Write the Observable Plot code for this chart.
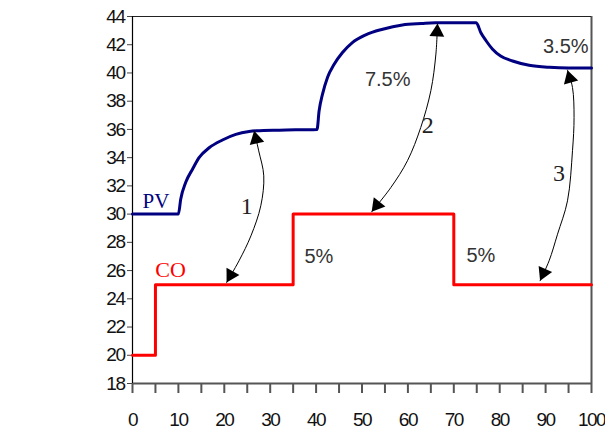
<!DOCTYPE html>
<html>
<head>
<meta charset="utf-8">
<script src="https://cdn.jsdelivr.net/npm/d3@7"></script>
<script src="https://cdn.jsdelivr.net/npm/@observablehq/plot@0.6"></script>
<style>
  html, body { margin: 0; padding: 0; background: #fff; }
  g[aria-label="x-axis tick label"] text, g[aria-label="y-axis tick label"] text { letter-spacing: -1.5px; }
</style>
</head>
<body>
<div id="chart"></div>
<script>
// ---- Data ----
const pvX = [0, 10, 10.5, 11.6, 13.1, 14.5, 16.7, 19.6, 22.5, 25.4, 27, 32, 40.2, 40.65, 41.4, 42.5, 43.9, 45.75, 47.9, 50.8, 54.5, 58.8, 63, 66, 74.9, 75.9, 77, 78.4, 80.2, 82.8, 86.4, 90.8, 95, 100];
const pvY = [30, 30, 31.05, 32.25, 33.2, 34.0, 34.7, 35.25, 35.65, 35.85, 35.9, 35.95, 36.0, 37.3, 38.5, 39.7, 40.6, 41.45, 42.15, 42.7, 43.1, 43.4, 43.5, 43.55, 43.55, 42.85, 42.3, 41.7, 41.2, 40.85, 40.55, 40.4, 40.35, 40.35];

const coX = [0, 5, 35, 70, 100];
const coY = [20, 25, 30, 25, 25];

const xTicks = [0, 10, 20, 30, 40, 50, 60, 70, 80, 90, 100];
const xMinorTicks = [0, 5, 10, 15, 20, 25, 30, 35, 40, 45, 50, 55, 60, 65, 70, 75, 80, 85, 90, 95, 100];
const yTicks = [18, 20, 22, 24, 26, 28, 30, 32, 34, 36, 38, 40, 42, 44];

// curved double-headed arrows (data coordinates along each path)
const arrow1X = [26.5, 27.5, 28.6, 27.95, 25.8, 23.2, 20.5];
const arrow1Y = [35.9, 34.48, 32.71, 30.59, 28.46, 26.69, 25.15];
const arrow2X = [66.45, 66.1, 65.0, 62.8, 59.9, 56.3, 52.1];
const arrow2Y = [43.5, 41.34, 38.74, 36.14, 33.78, 31.89, 30.16];
const arrow3X = [94.77, 95.86, 96.2, 95.86, 94.77, 92.6, 90.76, 88.8];
const arrow3Y = [40.2, 38.97, 36.84, 34.49, 30.94, 28.58, 26.69, 25.28];

// labels
const seriesLabels = ["PV", "CO"];
const seriesLabelX = [5.1, 8.3];
const seriesLabelY = [30.94, 26.05];
const numLabels = ["1", "2", "3"];
const numLabelX = [24.9, 64.3, 92.9];
const numLabelY = [30.52, 36.26, 32.86];
const pctLabels = ["7.5%", "3.5%", "5%", "5%"];
const pctLabelX = [55.6, 94.4, 40.6, 75.9];
const pctLabelY = [39.52, 41.85, 26.98, 27.05];

// ---- Build ----
const W = 605, H = 435;
const mL = 132, mR = 14, mT = 16, mB = 52;
const kx = (W - mL - mR) / 100;   // px per x unit
const ky = (H - mT - mB) / 26;    // px per y unit

const pv = pvX.map((x, i) => ({x, y: pvY[i]}));
const co = coX.map((x, i) => ({x, y: coY[i]}));

const arrowsRaw = [[arrow1X, arrow1Y], [arrow2X, arrow2Y], [arrow3X, arrow3Y]];
const arrowPts = [];
const heads = [];
const r = 5.5;
const area = Math.PI * r * r;
const side = Math.sqrt(4 * area / Math.sqrt(3));
const off = (2 / 3) * side * Math.sqrt(3) / 2;
arrowsRaw.forEach(([xs, ys], k) => {
  xs.forEach((x, i) => arrowPts.push({x, y: ys[i], id: k}));
  const n = xs.length;
  for (const [t, p] of [[0, 1], [n - 1, n - 2]]) {
    const dx = (xs[t] - xs[p]) * kx;
    const dy = -(ys[t] - ys[p]) * ky;
    const len = Math.hypot(dx, dy);
    const ux = dx / len, uy = dy / len;
    heads.push({
      x: xs[t] - ux * off / kx,
      y: ys[t] + uy * off / ky,
      rot: Math.atan2(ux, -uy) * 180 / Math.PI
    });
  }
});

const series = seriesLabels.map((t, i) => ({t, x: seriesLabelX[i], y: seriesLabelY[i]}));
const nums = numLabels.map((t, i) => ({t, x: numLabelX[i], y: numLabelY[i]}));
const pcts = pctLabels.map((t, i) => ({t, x: pctLabelX[i], y: pctLabelY[i]}));

const chart = Plot.plot({
  width: W, height: H,
  marginLeft: mL, marginRight: mR, marginTop: mT, marginBottom: mB,
  x: {domain: [0, 100]},
  y: {domain: [18, 44]},
  style: {fontFamily: "'Liberation Sans', Arial, sans-serif", background: "#fff", color: "#111"},
  marks: [
    Plot.axisY(yTicks, {tickSize: 5, tickPadding: 3, fontSize: 19, stroke: "#444", label: null}),
    Plot.axisX(xMinorTicks, {tickSize: 10, tickFormat: () => "", stroke: "#555", strokeWidth: 2, label: null}),
    Plot.axisX(xTicks, {tickSize: 0, tickPadding: 29, fontSize: 19, label: null}),
    Plot.ruleY([18], {stroke: "#555", strokeWidth: 2}),
    Plot.ruleX([100], {stroke: "#555", strokeWidth: 2, y1: 18, y2: 44}),
    Plot.ruleY([44], {stroke: "#222", strokeWidth: 1}),
    Plot.ruleX([0], {stroke: "#000", strokeWidth: 1.2, y1: 18, y2: 44}),
    Plot.line(co, {x: "x", y: "y", curve: "step-after", stroke: "#ff0000", strokeWidth: 3}),
    Plot.line(pv, {x: "x", y: "y", curve: "monotone-x", stroke: "#000080", strokeWidth: 3}),
    Plot.line(arrowPts, {x: "x", y: "y", z: "id", curve: "catmull-rom", stroke: "#000", strokeWidth: 1}),
    Plot.dot(heads, {x: "x", y: "y", symbol: "triangle", r: r, rotate: "rot", fill: "#000", stroke: "none"}),
    Plot.text(series, {x: "x", y: "y", text: "t", fill: d => d.t === "PV" ? "#000080" : "#ff0000",
      fontFamily: "'Liberation Serif', 'Times New Roman', serif", fontSize: d => d.t === "PV" ? 21 : 22,
      fontWeight: d => d.t === "PV" ? "bold" : "normal"}),
    Plot.text(nums, {x: "x", y: "y", text: "t", fill: "#222", fontSize: 24,
      fontFamily: "'Liberation Serif', 'Times New Roman', serif"}),
    Plot.text(pcts, {x: "x", y: "y", text: "t", fill: "#333", fontSize: 20})
  ]
});
document.getElementById("chart").appendChild(chart);
</script>
</body>
</html>
